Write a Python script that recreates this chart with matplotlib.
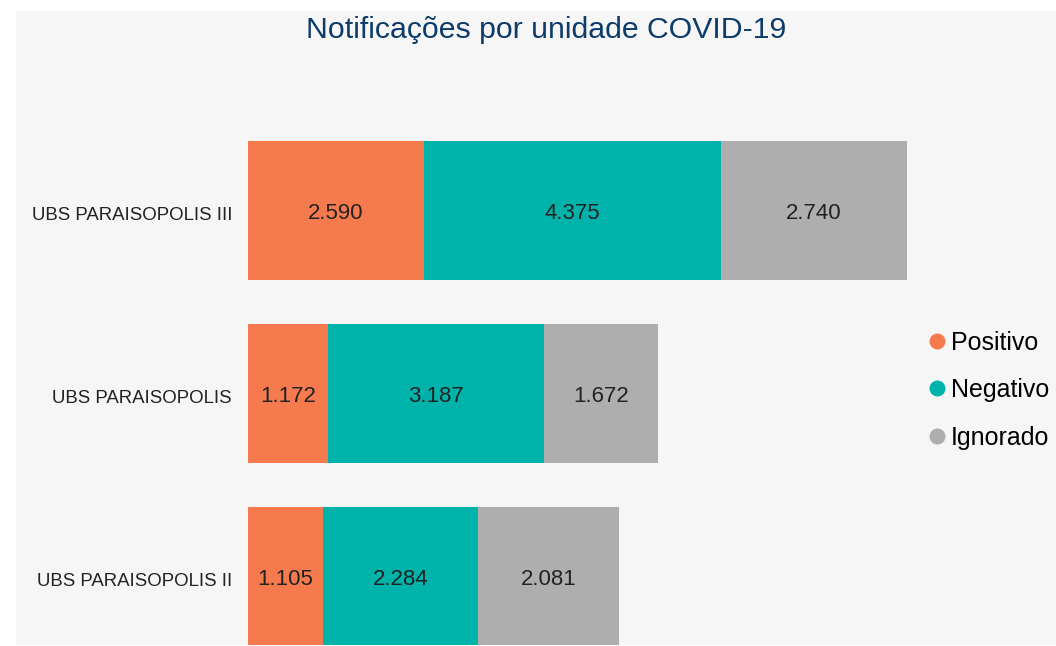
import matplotlib.pyplot as plt
import matplotlib.transforms as mtransforms
from matplotlib.patches import Rectangle
from matplotlib.lines import Line2D

plt.rcParams['font.family'] = ['Liberation Sans', 'DejaVu Sans']

unidades = ['UBS PARAISOPOLIS III', 'UBS PARAISOPOLIS', 'UBS PARAISOPOLIS II']
positivo = [2590, 1172, 1105]
negativo = [4375, 3187, 2284]
ignorado = [2740, 1672, 2081]
series = ['Positivo', 'Negativo', 'Ignorado']
cores = ['#F57B4F', '#00B3AA', '#AEAEAE']

W, H = 1056, 646
fig = plt.figure(figsize=(W / 100, H / 100), dpi=100)
fig.patch.set_facecolor('white')

# painel cinza de fundo
fig.patches.append(Rectangle((16 / W, 1 - 645 / H), 1 - 16 / W, (645 - 11) / H,
                             transform=fig.transFigure, facecolor='#f6f6f6',
                             edgecolor='none', zorder=-10))

# eixo posicionado em pixels
left, right, top, bottom = 248, 907, 70, 645
ax = fig.add_axes([left / W, 1 - bottom / H, (right - left) / W, (bottom - top) / H])
ax.set_facecolor('none')

# pequeno deslocamento para baixo dos rótulos do eixo (3 px)
desloca = mtransforms.ScaledTranslation(0, -0.03, fig.dpi_scale_trans)

y = list(range(len(unidades)))
base = [0] * len(unidades)
for vals, nome, cor in zip([positivo, negativo, ignorado], series, cores):
    bars = ax.barh(y, vals, left=base, height=0.76, color=cor, label=nome)
    txts = ax.bar_label(bars, labels=[f'{v:,}'.replace(',', '.') for v in vals],
                        label_type='center', fontsize=16, color='#222222')
    for t in txts:
        t.xyann = (0, -2.2)
    base = [b + v for b, v in zip(base, vals)]

ax.set_xlim(0, max(base))
ax.set_ylim(2.374, -0.768)
ax.set_yticks(y)
ax.set_yticklabels(unidades, fontsize=13.4, color='#222222')
ax.tick_params(axis='y', length=0, pad=11.5)
for lbl in ax.get_yticklabels():
    lbl.set_transform(lbl.get_transform() + desloca)
ax.set_xticks([])
for s in ax.spines.values():
    s.set_visible(False)

fig.text(546 / W, 1 - 30 / H, 'Notificações por unidade COVID-19', ha='center',
         va='center', fontsize=21.8, color='#0d3c6b')

handles = [Line2D([], [], marker='o', linestyle='none', markersize=11.5,
                  markerfacecolor=c, markeredgecolor='none') for c in cores]
fig.legend(handles, series, loc='center left', bbox_to_anchor=(924.5 / W, 1 - 390 / H),
           frameon=False, fontsize=18, handletextpad=0.06, labelspacing=0.94,
           handlelength=1.0, borderaxespad=0, borderpad=0)

fig.savefig('out.png', dpi=100, facecolor=fig.get_facecolor())
